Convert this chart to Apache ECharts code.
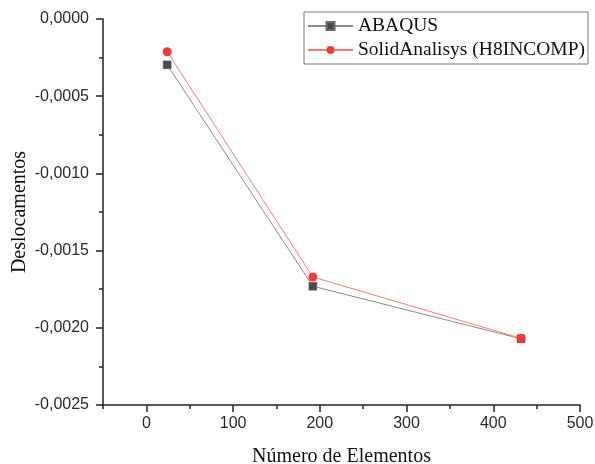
<!DOCTYPE html>
<html>
<head>
<meta charset="utf-8">
<script src="https://cdn.jsdelivr.net/npm/echarts@6/dist/echarts.min.js"></script>
<style>
  html, body { margin: 0; padding: 0; background: #fff; }
  #chart { width: 595px; height: 464px; }
</style>
</head>
<body>
<div id="chart"></div>
<script>
// número de elementos (x) e deslocamentos (y)
const numElementos = [24, 192, 432];
const abaqus = [-0.000297, -0.001731, -0.002071];
const solidAnalisys = [-0.000212, -0.001671, -0.002068];
const seriesNames = ['ABAQUS', 'SolidAnalisys (H8INCOMP)'];
const xTickValues = [0, 100, 200, 300, 400, 500];

const chart = echarts.init(document.getElementById('chart'), null, { renderer: 'canvas' });

const axisColor = '#222';
const labelFont = 'Liberation Sans, Arial, sans-serif';
const serifFont = 'Liberation Serif, Times New Roman, serif';

const fmtY = v => {
  const s = Math.abs(v) < 1e-12 ? '0.0000' : v.toFixed(4);
  return s.replace('.', ',');
};

const option = {
  backgroundColor: '#fff',
  animation: false,
  grid: { left: 103, right: 15, top: 19, bottom: 59, outerBoundsMode: 'none', containLabel: false },
  legend: {
    data: seriesNames,
    orient: 'vertical',
    left: 304,
    top: 12,
    padding: [4, 3, 4, 3],
    itemWidth: 45,
    itemHeight: 10,
    itemGap: 4,
    itemTextGap: 5,
    borderColor: '#777',
    borderWidth: 1,
    textStyle: { fontFamily: serifFont, fontSize: 19.5, color: '#111', lineHeight: 20 },
  },
  xAxis: [
    {
      // eixo dos dados, com ticks menores a cada 50
      type: 'value',
      min: -50,
      max: 500,
      interval: 50,
      position: 'bottom',
      name: 'Número de Elementos',
      nameLocation: 'middle',
      nameGap: 42,
      nameTextStyle: { fontFamily: serifFont, fontSize: 20, color: '#111' },
      axisLine: { show: true, onZero: false, lineStyle: { color: axisColor, width: 1.5 } },
      axisTick: { show: true, inside: false, length: 4, lineStyle: { color: axisColor, width: 1.5 } },
      axisLabel: { show: false },
      splitLine: { show: false },
    },
    {
      // ticks principais e rótulos
      type: 'value',
      min: -50,
      max: 500,
      position: 'bottom',
      axisLine: { show: false, onZero: false },
      axisTick: { show: true, length: 7, customValues: xTickValues, lineStyle: { color: axisColor, width: 1.5 } },
      axisLabel: {
        show: true,
        customValues: xTickValues,
        margin: 11,
        fontFamily: labelFont,
        fontSize: 16,
        color: '#2a2a2a',
      },
      splitLine: { show: false },
    },
  ],
  yAxis: {
    type: 'value',
    min: -0.0025,
    max: 0,
    interval: 0.0005,
    name: 'Deslocamentos',
    nameLocation: 'middle',
    nameGap: 73,
    nameMoveOverlap: false,
    nameTextStyle: { fontFamily: serifFont, fontSize: 20, color: '#111' },
    axisLine: { show: true, onZero: false, lineStyle: { color: axisColor, width: 1.5 } },
    axisTick: { show: true, length: 7, lineStyle: { color: axisColor, width: 1.5 } },
    minorTick: { show: true, splitNumber: 2, length: 4, lineStyle: { color: axisColor, width: 1.5 } },
    axisLabel: {
      margin: 14,
      fontFamily: labelFont,
      fontSize: 16,
      color: '#2a2a2a',
      formatter: fmtY,
    },
    splitLine: { show: false },
  },
  series: [
    {
      name: seriesNames[0],
      type: 'line',
      xAxisIndex: 0,
      data: numElementos.map((x, i) => [x, abaqus[i]]),
      symbol: 'rect',
      symbolSize: 8,
      lineStyle: { color: '#8a8a8a', width: 1 },
      itemStyle: { color: '#4a4a4a', borderColor: '#6a6a6a', borderWidth: 0.5 },
      z: 2,
    },
    {
      name: seriesNames[1],
      type: 'line',
      xAxisIndex: 0,
      data: numElementos.map((x, i) => [x, solidAnalisys[i]]),
      symbol: 'circle',
      symbolSize: 9,
      lineStyle: { color: '#ff7878', width: 1 },
      itemStyle: { color: '#f03a3a' },
      z: 3,
    },
  ],
};

chart.setOption(option);
</script>
</body>
</html>
